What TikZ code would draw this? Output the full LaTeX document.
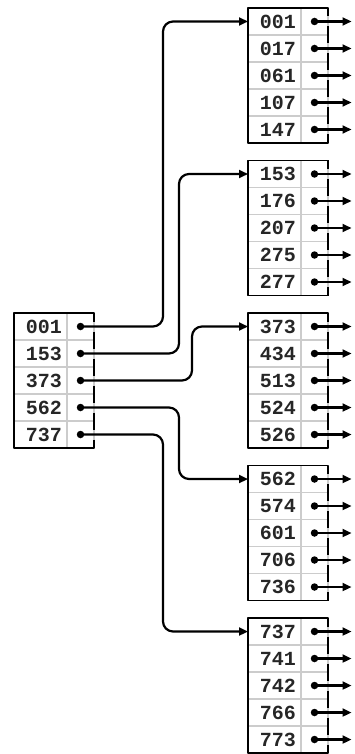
\documentclass[tikz,border=0pt]{standalone}
\usepackage{fontspec}
\newfontfamily\keyfont{Liberation Mono}
\usetikzlibrary{arrows.meta,positioning}

\begin{document}
\begin{tikzpicture}[x=1pt,y=-1pt,line cap=round,line join=round]
  \tikzset{
    keycell/.style={draw=black!20,line width=1.2pt,minimum height=27pt,
      text width=43pt,align=right,inner xsep=5pt,inner ysep=0pt,outer sep=0pt,
      font=\keyfont\bfseries\fontsize{20}{20}\selectfont,text=black!85},
    ptrcell/.style={draw=black!20,line width=1.2pt,minimum width=27pt,
      minimum height=27pt,inner sep=0pt,outer sep=0pt},
    dot/.style={circle,fill=black,inner sep=0pt,minimum size=7.5pt},
    frame/.style={draw=black,line width=1.8pt},
    edge/.style={frame,line cap=butt,dash pattern=on 17pt off 10pt,dash phase=8.5pt},
    link/.style={line width=2.2pt,-{Triangle[length=9pt,width=8pt]}},
  }
  \useasboundingbox (0,0) rectangle (354,754);

  % Root block: one key and one pointer per row.
  \foreach \key [count=\i from 0] in {001,153,373,562,737} {
    \node[keycell] (r\i) at (40.5,326.5+27*\i) {\key};
    \node[ptrcell,right=0pt of r\i] (r\i c) {};
    \node[dot] (r\i d) at (r\i c.center) {};
  }
  \draw[frame] (r0c.north east) -- (r0.north west) -- (r4.south west) -- (r4c.south east);
  \draw[edge] (r0c.north east) -- (r4c.south east);

  % Leaf blocks, each pointer leads out to the right.
  \foreach \keys [count=\b from 0] in {{001,017,061,107,147},{153,176,207,275,277},
      {373,434,513,524,526},{562,574,601,706,736},{737,741,742,766,773}} {
    \foreach \key [count=\i from 0] in \keys {
      \node[keycell] (l\b-\i) at (274.5,21.5+152.5*\b+27*\i) {\key};
      \node[ptrcell,right=0pt of l\b-\i] (l\b-\i c) {};
      \node[dot] (l\b-\i d) at (l\b-\i c.center) {};
      \draw[link] (l\b-\i d.center) -- ++(37,0);
    }
    \draw[frame] (l\b-0c.north east) -- (l\b-0.north west) -- (l\b-4.south west) -- (l\b-4c.south east);
    \draw[edge] (l\b-0c.north east) -- (l\b-4c.south east);
  }

  % Root pointers bend round to the first key of each leaf.
  \foreach \i/\dx in {0/-85,1/-69,2/-56,3/-69,4/-85}
    \draw[link,rounded corners=10pt] (r\i d.center) -| ([xshift=\dx pt]l\i-0.west) -- (l\i-0.west);
\end{tikzpicture}
\end{document}
